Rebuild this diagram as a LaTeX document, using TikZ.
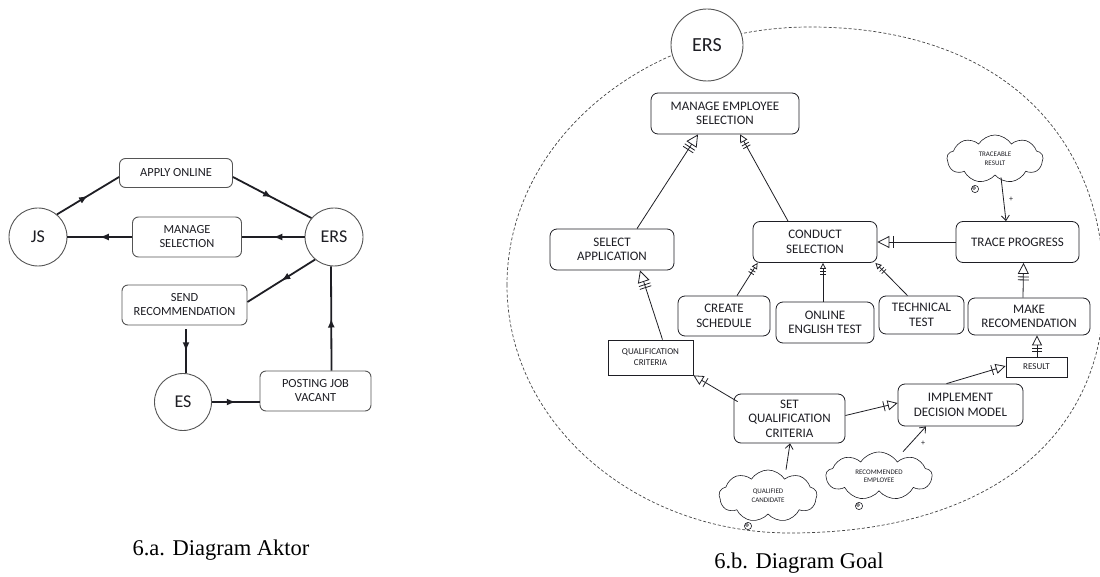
\documentclass[tikz,border=0pt]{standalone}
\usepackage{fontspec}
\setmainfont{Carlito}
\newfontfamily\capfont{Liberation Serif}
\usetikzlibrary{arrows.meta,calc,shapes.symbols,decorations.markings}

\definecolor{ink}{HTML}{1E1E24}
\definecolor{edge}{HTML}{555555}
\definecolor{dashc}{HTML}{444444}

\tikzset{
  actor/.style={circle, draw=edge, line width=0.9pt, fill=white, minimum size=58pt,
    inner sep=0pt, font=\fontsize{18}{20}\selectfont, text=ink},
  task/.style={rectangle, rounded corners=6pt, draw=edge, line width=0.9pt, fill=white,
    align=center, font=\fontsize{12.4}{14}\selectfont, text=ink, inner sep=0pt},
  flow/.style={draw=ink, line width=1.8pt, postaction={decorate},
    decoration={markings, mark=at position 0.5 with {\arrow{Latex[length=9pt,width=7pt]}}}},
  goal/.style={rectangle, rounded corners=7pt, draw=ink, line width=0.8pt, fill=white,
    align=center, font=\fontsize{13}{14.5}\selectfont, text=ink, inner sep=0pt},
  res/.style={rectangle, draw=ink, line width=0.8pt, fill=white, align=center,
    font=\fontsize{9}{11}\selectfont, text=ink, inner sep=0pt},
  belief/.style={cloud, cloud puffs=9, cloud puff arc=115, cloud ignores aspect, draw=ink,
    line width=0.6pt, fill=white, align=center, font=\fontsize{7}{8.5}\selectfont,
    text=ink, inner sep=0pt},
  andlink/.style={draw=ink, line width=0.8pt, -{Triangle[open,length=#1,width=#1]},
    postaction={decorate, decoration={markings,
      mark=at position -#1-3pt with {\draw[-,line width=0.8pt] (0,-0.5*#1) -- (0,0.5*#1);},
      mark=at position -#1-6pt with {\draw[-,line width=0.8pt] (0,-0.5*#1) -- (0,0.5*#1);}}}},
  andlink/.default=10pt,
  onelink/.style={draw=ink, line width=0.8pt, -{Triangle[open,length=#1,width=#1]},
    postaction={decorate, decoration={markings,
      mark=at position -#1-4pt with {\draw[-,line width=0.8pt] (0,-0.5*#1) -- (0,0.5*#1);}}}},
  onelink/.default=10pt,
  thought/.style={draw=ink, line width=0.8pt, -{Straight Barb[length=5pt,width=8pt]}},
  plus/.style={font=\fontsize{8}{8}\selectfont, text=ink, inner sep=0pt},
  bubble/.style={draw=ink, line width=0.6pt, fill=white},
  boundary/.style={draw=dashc, line width=0.7pt, dash pattern=on 3pt off 2pt},
  caption/.style={font=\capfont\fontsize{22.5}{24}\selectfont, text=black, inner sep=0pt}
}

\begin{document}
\begin{tikzpicture}[x=1pt, y=-1pt]
\useasboundingbox (0,0) rectangle (1100,577);

% ---------- actor diagram ----------
\node[actor] (js) at (38,237) {JS};
\node[actor] (ers) at (334,237) {ERS};
\node[actor, minimum size=57pt] (es) at (183,402) {ES};
\node[task, minimum width=113pt, minimum height=29pt] (apply) at (176,173) {APPLY ONLINE};
\node[task, minimum width=109pt, minimum height=40pt] (manage) at (187,237) {MANAGE\\SELECTION};
\node[task, minimum width=125pt, minimum height=40pt] (send) at (184.5,305) {SEND\\RECOMMENDATION};
\node[task, minimum width=111pt, minimum height=40pt] (post) at (315.5,391) {POSTING JOB\\VACANT};

\draw[flow] (js.50) -- ($(apply.west)+(0,4)$);
\draw[flow] ($(apply.east)+(0,4)$) -- (ers.140);
\draw[flow] (ers.west) -- (manage.east);
\draw[flow] (manage.west) -- (js.east);
\draw[flow] (ers.230) -- ($(send.east)+(0,-3)$);
\draw[flow] ($(send.south)+(1.5,4)$) -- ($(es.north)+(3,0)$);
\draw[flow] (es.east) -- ($(post.west)+(0,11)$);
\draw[flow] ($(post.north)+(16,0)$) -- ($(ers.south)+(-3,0)$);

% ---------- goal diagram ----------
% actor boundary: four quarter curves meeting at the extreme points
\draw[boundary] (507,285) .. controls (507,142.5) and (642.7,27) .. (810,27)
  .. controls (992,27) and (1104,127) .. (1104,290)
  .. controls (1104,440.7) and (984.7,533) .. (790,533)
  .. controls (633.7,533) and (507,422) .. cycle;

\node[actor, minimum size=72pt, font=\fontsize{20}{22}\selectfont] (ers2) at (707,45) {ERS};

\node[goal, minimum width=148pt, minimum height=41pt] (mes) at (725,113.5) {MANAGE EMPLOYEE\\SELECTION};
\node[goal, minimum width=124pt, minimum height=41pt] (sa) at (612,249.5) {SELECT\\APPLICATION};
\node[goal, minimum width=124pt, minimum height=41pt] (cs) at (815,242) {CONDUCT\\SELECTION};
\node[goal, minimum width=123pt, minimum height=41pt] (trace) at (1017.5,242) {TRACE PROGRESS};
\node[goal, minimum width=92pt, minimum height=40pt] (create) at (724,316) {CREATE\\SCHEDULE};
\node[goal, minimum width=98pt, minimum height=41pt] (oet) at (825,322.5) {ONLINE\\ENGLISH TEST};
\node[goal, minimum width=85pt, minimum height=38pt] (tech) at (921.5,315) {TECHNICAL\\TEST};
\node[goal, minimum width=122pt, minimum height=37pt] (make) at (1029,316.5) {MAKE\\RECOMENDATION};
\node[res, minimum width=61pt, minimum height=20pt] (result) at (1036.5,367) {RESULT};
\node[res, minimum width=85pt, minimum height=35pt] (qc) at (650.5,357.5) {QUALIFICATION\\CRITERIA};
\node[goal, minimum width=125pt, minimum height=42pt] (idm) at (960.5,405) {IMPLEMENT\\DECISION MODEL};
\node[goal, minimum width=111pt, minimum height=49pt] (sqc) at (789.5,418.5) {SET\\QUALIFICATION\\CRITERIA};

% softgoal clouds with their thought bubbles
\node[belief, minimum width=96pt, minimum height=48pt] (trc) at (995,159) {TRACEABLE\\RESULT};
\node[belief, minimum width=98pt, minimum height=52pt] (qcand) at (768,496) {QUALIFIED\\CANDIDATE};
\node[belief, minimum width=106pt, minimum height=48pt] (remp) at (879,476) {RECOMMENDED\\EMPLOYEE};
\foreach \c in {trc,qcand,remp}{
  \draw[bubble] ($(\c.center)+(-20,30)$) circle[radius=3.6pt];
  \draw[bubble] ($(\c.center)+(-21,29)$) circle[radius=1.5pt];
}

% decomposition links
\draw[andlink=12pt] ($(sa.north)+(25,0)$) -- ($(mes.south)+(-27,0)$);
\draw[andlink=8pt] ($(cs.north)+(-27,0)$) -- ($(mes.south)+(15,0)$);
\draw[andlink=12pt] ($(qc.north)+(12,0)$) -- ($(sa.south)+(28,0)$);
\draw[andlink=6pt] ($(create.north)+(13,0)$) -- ($(cs.south west)+(5,0)$);
\draw[andlink=6pt] ($(oet.north)+(-2,0)$) -- ($(cs.south)+(8,0)$);
\draw[andlink=6pt] ($(tech.north)+(-14,0)$) -- ($(cs.south east)+(-2,0)$);
\draw[onelink=12pt] (trace.west) -- (cs.east);
\draw[andlink=11pt] ($(make.north)+(-6,0)$) -- ($(trace.south)+(6,0)$);
\draw[andlink=10pt] ($(result.north)+(0.5,0)$) -- ($(make.south)+(8,0)$);
\draw[onelink=10pt] ($(sqc.north west)+(4,8)$) -- (qc.south east);
\draw[onelink=10pt] ($(sqc.east)+(0,-3)$) -- ($(idm.west)+(0,-2)$);
\draw[onelink=10pt] ($(idm.north)+(-14,0)$) -- ($(result.west)+(0,-1)$);

% contribution links from the clouds
\draw[thought] ($(trc.south)+(6,2)$) -- ($(trace.north)+(-11.5,0)$);
\node[plus] (p1) at (1011,199) {+};
\draw[thought] ($(qcand.north)+(18,0)$) -- ($(sqc.south)+(0.5,0)$);
\draw[thought] ($(remp.north)+(24,0)$) -- ($(idm.south)+(-34.5,0)$);
\node[plus] (p2) at (923,443) {+};

% captions
\node[caption] (capa) at (221,550) {6.a. Diagram Aktor};
\node[caption] (capb) at (799,563) {6.b. Diagram Goal};
\end{tikzpicture}
\end{document}
